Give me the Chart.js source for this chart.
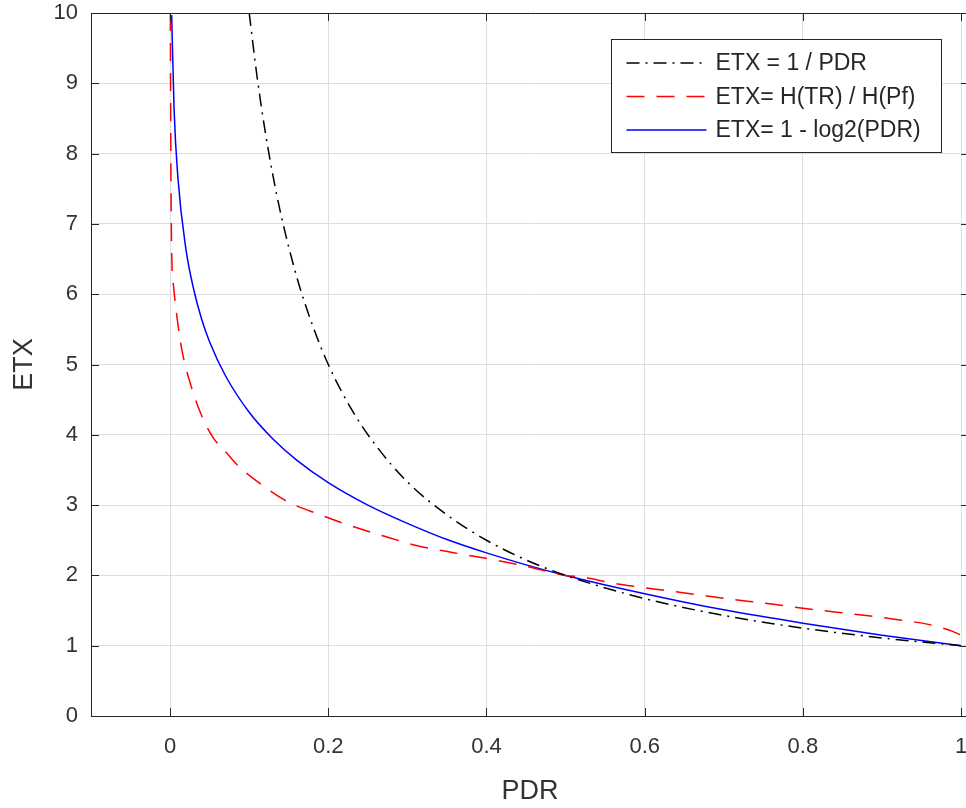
<!DOCTYPE html>
<html>
<head>
<meta charset="utf-8">
<script src="https://cdn.jsdelivr.net/npm/chart.js@4.4.0/dist/chart.umd.min.js"></script>
<style>
  html, body { margin: 0; padding: 0; background: #fff; overflow: hidden; }
  #wrap { width: 980px; height: 808px; }
</style>
</head>
<body>
<div id="wrap"><canvas id="myChart"></canvas></div>
<script>
// values
const xTicks = [0, 0.2, 0.4, 0.6, 0.8, 1];
const yTicks = [0, 1, 2, 3, 4, 5, 6, 7, 8, 9, 10];

const pdrInv = [0.1, 0.11, 0.12, 0.13, 0.14, 0.16, 0.18, 0.2, 0.23, 0.26, 0.3, 0.35, 0.4, 0.45, 0.5, 0.6, 0.7, 0.8, 0.9, 1.0];
const etxInv = [10, 9.09, 8.33, 7.69, 7.14, 6.25, 5.56, 5.0, 4.35, 3.85, 3.33, 2.86, 2.5, 2.22, 2.0, 1.67, 1.43, 1.25, 1.11, 1.0];

const pdrH = [0.0003, 0.001, 0.002, 0.0045, 0.009, 0.015, 0.025, 0.04, 0.055, 0.067, 0.085, 0.105, 0.145, 0.19, 0.23, 0.27, 0.31, 0.36, 0.41, 0.45, 0.49, 0.5, 0.525, 0.555, 0.59, 0.63, 0.67, 0.71, 0.755, 0.795, 0.84, 0.88, 0.92, 0.96, 0.99, 1.0];
const etxH = [10, 7.8, 6.6, 6.1, 5.65, 5.2, 4.75, 4.27, 3.95, 3.8, 3.57, 3.38, 3.07, 2.86, 2.7, 2.56, 2.43, 2.32, 2.22, 2.13, 2.02, 2.0, 1.97, 1.9, 1.84, 1.78, 1.72, 1.66, 1.6, 1.54, 1.48, 1.43, 1.37, 1.3, 1.2, 1.15];

const pdrLog = [0.002, 0.005, 0.01, 0.02, 0.03, 0.04, 0.05, 0.07, 0.1, 0.13, 0.16, 0.2, 0.25, 0.3, 0.35, 0.4, 0.45, 0.5, 0.6, 0.7, 0.8, 0.9, 1.0];
const etxLog = [9.97, 8.64, 7.64, 6.64, 6.06, 5.64, 5.32, 4.84, 4.32, 3.94, 3.64, 3.32, 3.0, 2.74, 2.51, 2.32, 2.15, 2.0, 1.74, 1.51, 1.32, 1.15, 1.0];

const toPoints = (xs, ys) => xs.map((x, i) => ({x: x, y: ys[i]}));

const FONT = "'Liberation Sans', Arial, sans-serif";
const AXIS = '#262626';

const data = {
  datasets: [{
    label: 'ETX = 1 / PDR',
    data: toPoints(pdrInv, etxInv),
    borderColor: '#000000',
    borderWidth: 1.5,
    borderDash: [13, 6, 2, 6],
    cubicInterpolationMode: 'monotone',
    pointRadius: 0,
    fill: false
  }, {
    label: 'ETX= H(TR) / H(Pf)',
    data: toPoints(pdrH, etxH),
    borderColor: '#ff0000',
    borderWidth: 1.5,
    borderDash: [18, 12],
    cubicInterpolationMode: 'monotone',
    pointRadius: 0,
    fill: false
  }, {
    label: 'ETX= 1 - log2(PDR)',
    data: toPoints(pdrLog, etxLog),
    borderColor: '#0000ff',
    borderWidth: 1.5,
    cubicInterpolationMode: 'monotone',
    pointRadius: 0,
    fill: false
  }]
};

// box on top/right plus inward tick marks, matlab style
const boxPlugin = {
  id: 'boxPlugin',
  afterDatasetsDraw(chart) {
    const {ctx, chartArea: a, scales} = chart;
    ctx.save();
    ctx.strokeStyle = AXIS;
    ctx.lineWidth = 1;
    ctx.beginPath();
    ctx.rect(a.left + 0.5, a.top + 0.5, a.right - a.left, a.bottom - a.top);
    ctx.stroke();
    const len = 8;
    ctx.beginPath();
    xTicks.forEach(v => {
      const px = Math.round(scales.x.getPixelForValue(v)) + 0.5;
      ctx.moveTo(px, a.bottom); ctx.lineTo(px, a.bottom - len);
      ctx.moveTo(px, a.top); ctx.lineTo(px, a.top + len);
    });
    yTicks.forEach(v => {
      const py = Math.round(scales.y.getPixelForValue(v)) + 0.5;
      ctx.moveTo(a.left, py); ctx.lineTo(a.left + len, py);
      ctx.moveTo(a.right, py); ctx.lineTo(a.right - len, py);
    });
    ctx.stroke();
    ctx.restore();
  }
};

// legend box in the upper right corner
const legendPlugin = {
  id: 'legendPlugin',
  afterDraw(chart) {
    const {ctx, chartArea: a} = chart;
    const x0 = a.right - 357.5, y0 = a.top + 26.5, w = 330, h = 113;
    ctx.save();
    ctx.fillStyle = '#fff';
    ctx.fillRect(x0, y0, w, h);
    ctx.strokeStyle = AXIS;
    ctx.lineWidth = 1;
    ctx.strokeRect(x0, y0, w, h);
    ctx.font = '23px ' + FONT;
    ctx.textBaseline = 'middle';
    chart.data.datasets.forEach((ds, i) => {
      const cy = y0 + 23.5 + i * 33.5;
      ctx.strokeStyle = ds.borderColor;
      ctx.lineWidth = ds.borderWidth;
      ctx.setLineDash(ds.borderDash || []);
      ctx.beginPath();
      ctx.moveTo(x0 + 15, cy);
      ctx.lineTo(x0 + 95, cy);
      ctx.stroke();
      ctx.setLineDash([]);
      ctx.fillStyle = '#262626';
      ctx.fillText(ds.label, x0 + 104, cy + 1);
    });
    ctx.restore();
  }
};

const config = {
  type: 'line',
  data,
  options: {
    responsive: true,
    maintainAspectRatio: false,
    animation: false,
    layout: { padding: { top: 13, right: 11, left: 0, bottom: 0 } },
    plugins: { legend: { display: false }, tooltip: { enabled: false } },
    scales: {
      x: {
        type: 'linear',
        min: -0.1,
        max: 1.01,
        afterBuildTicks: (scale) => { scale.ticks = xTicks.map(v => ({value: v})); },
        afterFit: (scale) => {
          scale.height = 92;
          scale.paddingLeft = 0;
          scale.paddingRight = 0;
        },
        ticks: {
          color: '#333',
          font: { family: FONT, size: 22 },
          padding: 18,
          maxRotation: 0,
          callback: (v) => String(v)
        },
        grid: { color: '#dedede', drawTicks: false },
        border: { display: true, color: AXIS },
        title: {
          display: true,
          text: 'PDR',
          color: '#333',
          font: { family: FONT, size: 27 },
          padding: { top: 0, bottom: 0 }
        }
      },
      y: {
        min: 0,
        max: 10,
        afterBuildTicks: (scale) => { scale.ticks = yTicks.map(v => ({value: v})); },
        afterFit: (scale) => {
          scale.width = 91;
          scale.paddingTop = 0;
          scale.paddingBottom = 0;
        },
        ticks: {
          color: '#333',
          font: { family: FONT, size: 22 },
          padding: 13
        },
        grid: { color: '#dedede', drawTicks: false },
        border: { display: true, color: AXIS },
        title: {
          display: true,
          text: 'ETX',
          color: '#333',
          font: { family: FONT, size: 27 },
          padding: { top: 8, bottom: 0 }
        }
      }
    }
  },
  plugins: [boxPlugin, legendPlugin]
};

const myChart = new Chart(
  document.getElementById('myChart'),
  config
);
</script>
</body>
</html>
